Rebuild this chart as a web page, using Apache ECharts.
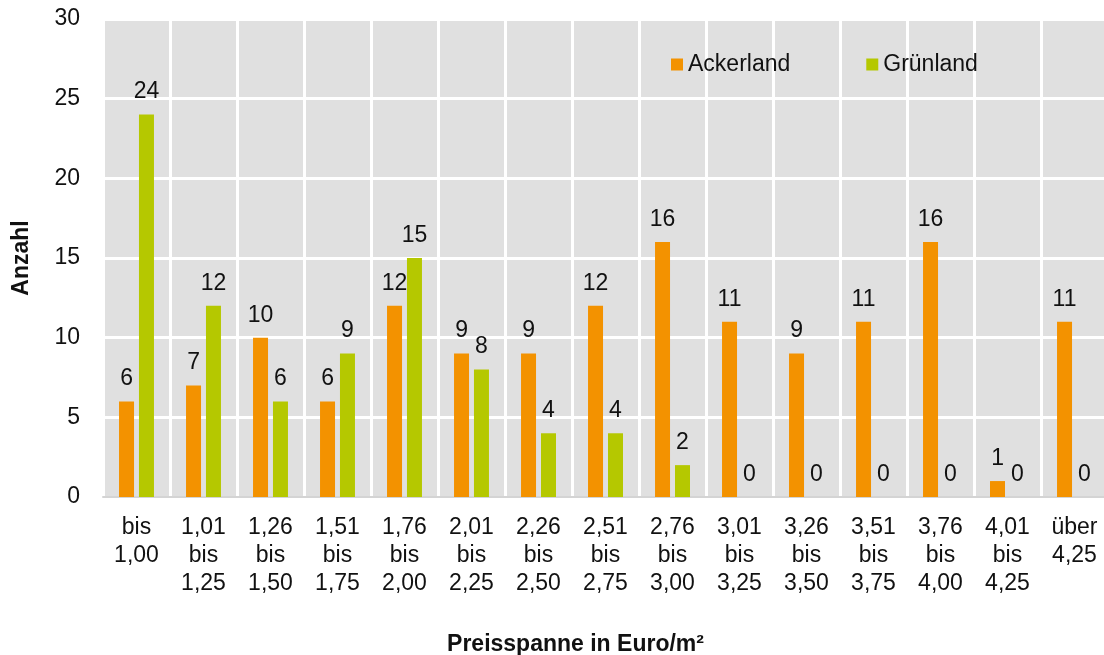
<!DOCTYPE html>
<html>
<head>
<meta charset="utf-8">
<script src="https://cdn.jsdelivr.net/npm/echarts@6/dist/echarts.min.js"></script>
<style>
  html, body { margin: 0; padding: 0; background: #fff; }
  #chart { width: 1104px; height: 655px; }
</style>
</head>
<body>
<div id="chart"></div>
<script>
// Preisspannen (Kategorien)
const categories = [
  "bis\n1,00", "1,01\nbis\n1,25", "1,26\nbis\n1,50", "1,51\nbis\n1,75",
  "1,76\nbis\n2,00", "2,01\nbis\n2,25", "2,26\nbis\n2,50", "2,51\nbis\n2,75",
  "2,76\nbis\n3,00", "3,01\nbis\n3,25", "3,26\nbis\n3,50", "3,51\nbis\n3,75",
  "3,76\nbis\n4,00", "4,01\nbis\n4,25", "über\n4,25"
];
const ackerland = [6, 7, 10, 6, 12, 9, 9, 12, 16, 11, 9, 11, 16, 1, 11];
const gruenland = [24, 12, 6, 9, 15, 8, 4, 4, 2, 0, 0, 0, 0, 0, 0];

const font = "Arial, 'Liberation Sans', sans-serif";
const textColor = "#111";

const chart = echarts.init(document.getElementById("chart"));
chart.setOption({
  animation: false,
  textStyle: { fontFamily: font },
  grid: {
    left: 103,
    top: 19,
    width: 1005,
    height: 478,
    outerBoundsMode: "none",
    show: true,
    backgroundColor: "#e0e0e0",
    borderWidth: 0
  },
  legend: {
    data: ["Ackerland", "Grünland"],
    left: 666,
    top: 48,
    icon: "rect",
    itemWidth: 12,
    itemHeight: 12,
    itemGap: 76,
    textStyle: { fontSize: 23, color: textColor, fontFamily: font }
  },
  xAxis: {
    type: "category",
    data: categories,
    name: "Preisspanne in Euro/m²",
    nameLocation: "middle",
    nameGap: 136,
    nameTextStyle: {
      fontSize: 23, fontWeight: "bold", color: textColor, fontFamily: font,
      padding: [0, 60, 0, 0]
    },
    axisLine: { show: true, lineStyle: { color: "#d4d4d4", width: 2 } },
    axisTick: { show: false },
    axisLabel: {
      interval: 0,
      fontSize: 23,
      lineHeight: 28,
      color: textColor,
      margin: 17,
      fontFamily: font
    },
    splitLine: { show: true, interval: 0, lineStyle: { color: "#fff", width: 3 } }
  },
  yAxis: {
    type: "value",
    min: 0,
    max: 30,
    interval: 5,
    name: "Anzahl",
    nameLocation: "middle",
    nameGap: 70,
    nameTextStyle: { fontSize: 23, fontWeight: "bold", color: textColor, fontFamily: font },
    axisLine: { show: false },
    axisTick: { show: false },
    axisLabel: { fontSize: 23, color: textColor, margin: 23, fontFamily: font },
    splitLine: { show: true, lineStyle: { color: "#fff", width: 3 } }
  },
  series: [
    {
      name: "Ackerland",
      type: "bar",
      data: ackerland,
      barWidth: 15,
      barGap: "33%",
      itemStyle: { color: "#f39200" },
      label: { show: true, position: "top", distance: 11, fontSize: 23, color: textColor, fontFamily: font }
    },
    {
      name: "Grünland",
      type: "bar",
      data: gruenland,
      barWidth: 15,
      itemStyle: { color: "#b5c800" },
      label: { show: true, position: "top", distance: 11, fontSize: 23, color: textColor, fontFamily: font }
    }
  ]
});
</script>
</body>
</html>
